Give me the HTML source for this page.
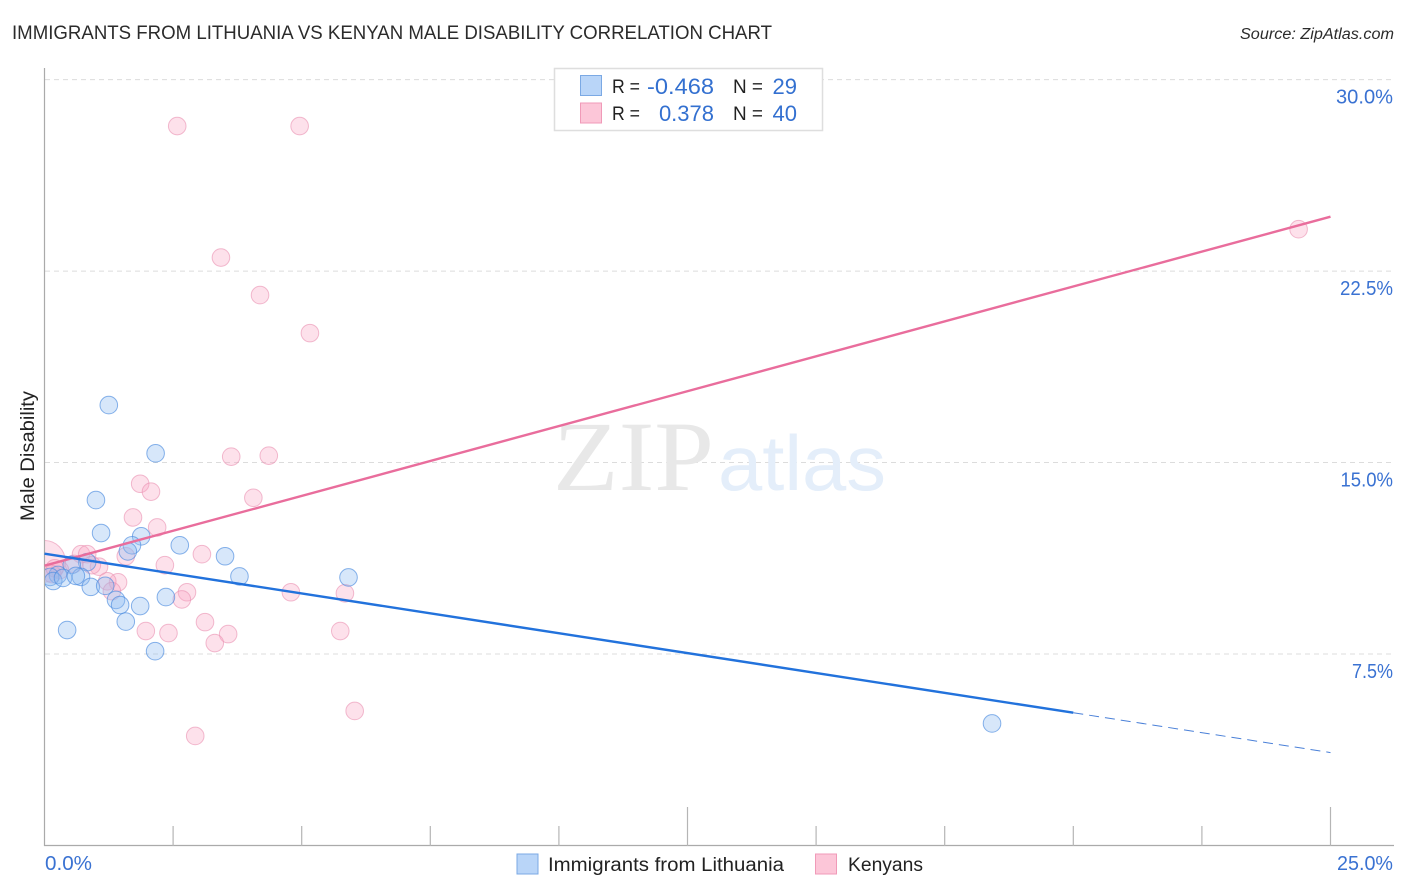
<!DOCTYPE html>
<html lang="en">
<head>
<meta charset="utf-8">
<title>Immigrants from Lithuania vs Kenyan Male Disability Correlation Chart</title>
<style>
html,body{margin:0;padding:0;background:#fff;}
svg{display:block;font-family:"Liberation Sans",sans-serif;}
</style>
</head>
<body>
<svg id="chart" xmlns="http://www.w3.org/2000/svg" width="1406" height="892" viewBox="0 0 1406 892">
  <defs>
    <clipPath id="plot-clip"><rect x="45" y="60" width="1349" height="786"/></clipPath>
  </defs>
  <text x="12" y="39" font-size="19" fill="#2b2b2b" textLength="760" lengthAdjust="spacingAndGlyphs">IMMIGRANTS FROM LITHUANIA VS KENYAN MALE DISABILITY CORRELATION CHART</text>
  <text x="1394" y="39" font-size="15.5" font-style="italic" fill="#2b2b2b" text-anchor="end" textLength="154" lengthAdjust="spacingAndGlyphs">Source: ZipAtlas.com</text>

  <g id="gridlines"></g>

  <g>
    <text x="553" y="490" font-family="'Liberation Serif',serif" font-size="100" fill="#e8e8e8" textLength="161" lengthAdjust="spacingAndGlyphs">ZIP</text>
    <text x="718" y="490" font-size="78" fill="#e4eefa" textLength="168" lengthAdjust="spacingAndGlyphs">atlas</text>
  </g>

  <g id="axes"></g>
  <g id="kenyan-points" clip-path="url(#plot-clip)"></g>
  <g id="lithuania-points" clip-path="url(#plot-clip)"></g>
  <g id="trendlines"></g>
  <g id="tick-labels"></g>

  <text transform="translate(34,456) rotate(-90)" font-size="19" fill="#222" text-anchor="middle" textLength="130" lengthAdjust="spacingAndGlyphs">Male Disability</text>

  <g>
    <rect x="554.5" y="68.5" width="268" height="62" fill="#fff" stroke="#dedede" stroke-width="1.5"/>
    <rect x="580.5" y="75.5" width="21" height="20" fill="#b9d5f8" stroke="#7ba9e4" stroke-width="1"/>
    <rect x="580.5" y="103" width="21" height="20" fill="#fcc6d8" stroke="#f09ab8" stroke-width="1"/>
    <g font-size="19" fill="#222">
      <text x="612" y="93" textLength="28" lengthAdjust="spacingAndGlyphs">R =</text>
      <text x="612" y="120" textLength="28" lengthAdjust="spacingAndGlyphs">R =</text>
      <text x="733" y="93" textLength="30" lengthAdjust="spacingAndGlyphs">N =</text>
      <text x="733" y="120" textLength="30" lengthAdjust="spacingAndGlyphs">N =</text>
    </g>
    <g font-size="22" fill="#3370d0">
      <text x="647" y="94" textLength="67" lengthAdjust="spacingAndGlyphs">-0.468</text>
      <text x="714" y="121" text-anchor="end">0.378</text>
      <text x="797" y="94" text-anchor="end">29</text>
      <text x="797" y="121" text-anchor="end">40</text>
    </g>
  </g>

  <g>
    <rect x="517" y="854" width="21" height="20" fill="#b9d5f8" stroke="#7ba9e4" stroke-width="1"/>
    <text x="548" y="871" font-size="19" fill="#222" textLength="236" lengthAdjust="spacingAndGlyphs">Immigrants from Lithuania</text>
    <rect x="815.5" y="854" width="21" height="20" fill="#fcc6d8" stroke="#f09ab8" stroke-width="1"/>
    <text x="848" y="871" font-size="19" fill="#222" textLength="75" lengthAdjust="spacingAndGlyphs">Kenyans</text>
  </g>
</svg>

<script>
var yTickValues = [30, 22.5, 15, 7.5];
var yTickLabels = ["30.0%", "22.5%", "15.0%", "7.5%"];
var xTickValues = [2.5, 5, 7.5, 10, 12.5, 15, 17.5, 20, 22.5, 25];
var xMajorTicks = [12.5, 25];
var xEdgeLabels = ["0.0%", "25.0%"];

var lithuaniaX = [1.25, 2.16, 1.0, 1.1, 1.88, 1.7, 1.62, 2.63, 3.51, 3.79, 5.91, 0.83, 0.53, 0.26, 0.11, 0.17, 0.36, 0.71, 0.9, 1.18, 1.39, 1.47, 1.86, 2.36, 1.58, 0.44, 2.15, 18.42, 0.61];
var lithuaniaY = [17.25, 15.36, 13.53, 12.24, 12.11, 11.76, 11.52, 11.76, 11.33, 10.54, 10.5, 11.1, 10.99, 10.6, 10.52, 10.36, 10.48, 10.52, 10.13, 10.17, 9.62, 9.42, 9.38, 9.73, 8.77, 8.44, 7.61, 4.78, 10.56];

var kenyansX = [2.58, 4.96, 24.38, 3.43, 4.19, 5.16, 3.63, 4.36, 1.86, 2.07, 4.06, 1.72, 2.19, 1.58, 3.06, 2.34, 0.71, 0.83, 0, 1.06, 0.57, 0.3, 0.15, 0.92, 1.43, 1.22, 1.31, 2.77, 2.67, 4.79, 5.84, 3.12, 1.97, 2.41, 3.57, 3.31, 5.75, 6.03, 2.93, 0.2];
var kenyansY = [28.18, 28.18, 24.14, 23.03, 21.56, 20.07, 15.23, 15.27, 14.17, 13.86, 13.62, 12.85, 12.46, 11.33, 11.41, 10.98, 11.41, 11.41, 11.13, 10.92, 11.03, 10.79, 10.63, 10.98, 10.31, 10.35, 9.96, 9.92, 9.64, 9.92, 9.88, 8.75, 8.4, 8.32, 8.28, 7.93, 8.4, 5.27, 4.29, 10.86];
var kenyansWeight = [1, 1, 1, 1, 1, 1, 1, 1, 1, 1, 1, 1, 1, 1, 1, 1, 1, 1, 5.6, 1, 1, 1, 1, 1, 1, 1, 1, 1, 1, 1, 1, 1, 1, 1, 1, 1, 1, 1, 1, 1];

var lithuaniaTrendX = [0, 20, 25];
var lithuaniaTrendY = [11.43, 5.2, 3.64];
var kenyansTrendX = [0, 25];
var kenyansTrendY = [10.96, 24.63];

var NS = "http://www.w3.org/2000/svg";
function xScale(v) { return 44.5 + v * 51.44; }
function yScale(v) { return 845.5 - v * 25.53; }
function make(tag, attrs, parent) {
  var el = document.createElementNS(NS, tag);
  for (var k in attrs) el.setAttribute(k, attrs[k]);
  parent.appendChild(el);
  return el;
}
/* Approximates the reference font's advance widths (narrow 1, 2 and 7). */
function labelWidth(label) {
  var w = 0;
  for (var i = 0; i < label.length; i++) {
    var ch = label.charAt(i);
    if (ch === ".") w += 5;
    else if (ch === "%") w += 17.5;
    else if (ch === "1") w += 7;
    else if (ch === "2") w += 9.5;
    else if (ch === "7") w += 7;
    else w += 11.5;
  }
  return w;
}

var gridG = document.getElementById("gridlines");
var axesG = document.getElementById("axes");
var labelsG = document.getElementById("tick-labels");
var kenG = document.getElementById("kenyan-points");
var litG = document.getElementById("lithuania-points");
var trendG = document.getElementById("trendlines");

yTickValues.forEach(function (v, i) {
  var line = make("line", {x1: 45, x2: 1394, y1: yScale(v), y2: yScale(v), stroke: "#dcdcdc", "stroke-width": 1, "stroke-dasharray": "5 4"}, gridG);
  
  
  var t = make("text", {x: 1393, y: yScale(v) + 24, "font-size": 20, fill: "#3a72d2", "text-anchor": "end", textLength: labelWidth(yTickLabels[i]), lengthAdjust: "spacingAndGlyphs"}, labelsG);
  t.textContent = yTickLabels[i];
  
  
});

var yAxis = make("line", {x1: 44.5, x2: 44.5, y1: 68, y2: 846, stroke: "#aaa", "stroke-width": 1.2}, axesG);


var xAxis = make("line", {x1: 44, x2: 1394, y1: 845.5, y2: 845.5, stroke: "#aaa", "stroke-width": 1.2}, axesG);



xTickValues.forEach(function (v) {
  var major = xMajorTicks.indexOf(v) >= 0;
  var tick = make("line", {x1: xScale(v), x2: xScale(v), y1: major ? 807 : 826, y2: 846, stroke: "#b5b5b5", "stroke-width": 1.2}, axesG);
  
  
});

var xLabelLeft = make("text", {x: 45, y: 870, "font-size": 20, fill: "#3a72d2", textLength: labelWidth(xEdgeLabels[0]) + 1.5, lengthAdjust: "spacingAndGlyphs"}, labelsG);
xLabelLeft.textContent = xEdgeLabels[0];


var xLabelRight = make("text", {x: 1393, y: 870, "font-size": 20, fill: "#3a72d2", "text-anchor": "end", textLength: labelWidth(xEdgeLabels[1]) + 1, lengthAdjust: "spacingAndGlyphs"}, labelsG);
xLabelRight.textContent = xEdgeLabels[1];



kenyansX.forEach(function (v, i) {
  var c = make("circle", {cx: xScale(v), cy: yScale(kenyansY[i]), r: 8.8 * Math.sqrt(kenyansWeight[i]), fill: "#f8a8c4", "fill-opacity": 0.34, stroke: "#ea8fb0", "stroke-opacity": 0.6, "stroke-width": 1}, kenG);
  
  
});

lithuaniaX.forEach(function (v, i) {
  var c = make("circle", {cx: xScale(v), cy: yScale(lithuaniaY[i]), r: 8.8, fill: "#90bcf0", "fill-opacity": 0.36, stroke: "#4a8ade", "stroke-opacity": 0.65, "stroke-width": 1}, litG);
  
  
});

var kenTrend = make("line", {x1: xScale(kenyansTrendX[0]), y1: yScale(kenyansTrendY[0]), x2: xScale(kenyansTrendX[1]), y2: yScale(kenyansTrendY[1]), stroke: "#e96d9c", "stroke-width": 2.4}, trendG);



var litTrend = make("line", {x1: xScale(lithuaniaTrendX[0]), y1: yScale(lithuaniaTrendY[0]), x2: xScale(lithuaniaTrendX[1]), y2: yScale(lithuaniaTrendY[1]), stroke: "#2272dc", "stroke-width": 2.4}, trendG);



var litDash = make("line", {x1: xScale(lithuaniaTrendX[1]), y1: yScale(lithuaniaTrendY[1]), x2: xScale(lithuaniaTrendX[2]), y2: yScale(lithuaniaTrendY[2]), stroke: "#4a80d8", "stroke-width": 1, "stroke-dasharray": "10 6"}, trendG);


</script>
</body>
</html>
